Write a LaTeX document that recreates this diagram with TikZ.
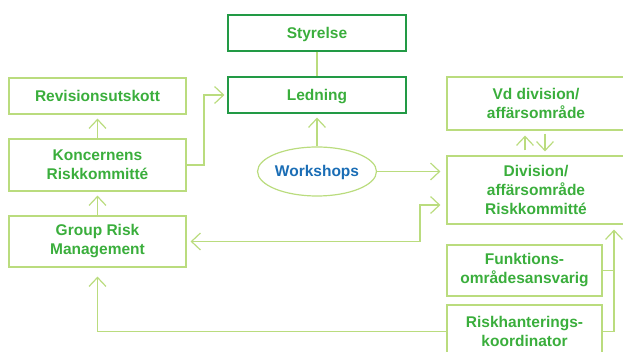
\documentclass[tikz,border=0pt]{standalone}
\usepackage{fontspec}
\setmainfont{Liberation Sans}
\usetikzlibrary{arrows.meta,shapes.geometric,calc}
\definecolor{darkgr}{HTML}{229A45}
\definecolor{txtgr}{HTML}{3AAE3C}
\definecolor{litegr}{HTML}{BADC7E}
\definecolor{wsblue}{HTML}{1A6DB5}
\tikzset{
  base/.style={font=\fontsize{15.5}{19}\selectfont\bfseries, text=txtgr, align=center, inner sep=0pt, line width=1.2pt},
  darkbox/.style={base, draw=darkgr, rectangle},
  litebox/.style={base, draw=litegr, rectangle},
  oneline/.style={text height=11pt, text depth=0pt},
  conn/.style={draw=litegr, line width=1.2pt},
  arr/.style={conn, -{Straight Barb[length=9pt,width=17pt,line width=1.2pt]}},
  dbl/.style={conn, {Straight Barb[length=9pt,width=17pt,line width=1.2pt]}-{Straight Barb[length=9pt,width=17pt,line width=1.2pt]}},
}
\begin{document}
\begin{tikzpicture}[x=1pt,y=-1pt]
\useasboundingbox (0,0) rectangle (623,352);
\node[darkbox, oneline, minimum width=178pt, minimum height=36pt] (sty) at (317,33) {Styrelse};
\node[darkbox, oneline, minimum width=178pt, minimum height=36pt] (led) at (317,95) {Ledning};
\node[litebox, oneline, minimum width=177pt, minimum height=36pt] (rev) at (97.5,96) {Revisionsutskott};
\node[litebox, minimum width=177pt, minimum height=52pt] (kon) at (97.5,165) {Koncernens\\Riskkommitté};
\node[litebox, minimum width=177pt, minimum height=51pt] (grm) at (97.5,241.5) {Group Risk\\Management};
\node[base, oneline, ellipse, draw=litegr, text=wsblue, minimum width=118pt, minimum height=49pt] (ws) at (317,171.5) {Workshops};
\node[litebox, minimum width=178pt, minimum height=53pt] (vd) at (536,103.5) {Vd division/\\affärsområde};
\node[litebox, minimum width=178pt, minimum height=68pt] (div) at (536,190) {Division/\\affärsområde\\Riskkommitté};
\node[litebox, minimum width=155pt, minimum height=51pt] (fun) at (524.5,270.5) {Funktions-\\områdesansvarig};
\node[litebox, minimum width=155pt, minimum height=53pt] (rsk) at (524.5,331.5) {Riskhanterings-\\koordinator};
\coordinate (rx) at (614,0);
\coordinate (kx) at (204,0);
\coordinate (gx) at (420,0);

\draw[conn] (sty) -- (led);
\draw[arr, shorten >=4pt] (kon) -- (rev);
\draw[arr, shorten >=4pt] (grm) -- (kon);
\draw[arr, shorten >=4pt] (ws) -- (led);
\draw[arr, shorten >=3pt] (kon.east) -- (kon.east -| kx) |- (led.west);
\draw[arr, shorten >=6pt] (ws.east) -- (ws.east -| div.west);
\draw[dbl, shorten <=4pt, shorten >=6pt] (grm.east) -- (grm.east -| gx) |- ([yshift=-15pt]div.west);
\draw[arr, shorten <=5pt, shorten >=5pt] ([xshift=-11pt]div.north) -- ([xshift=-11pt]vd.south);
\draw[arr, shorten <=3pt, shorten >=4pt] ([xshift=9pt]vd.south) -- ([xshift=9pt]div.north);
\draw[arr, shorten >=9pt] (rsk.west) -| (grm.south);
\draw[conn] (fun.east) -- (fun.east -| rx);
\draw[arr, shorten >=5pt] (rsk.east) -| (div.south -| rx);
\end{tikzpicture}
\end{document}
